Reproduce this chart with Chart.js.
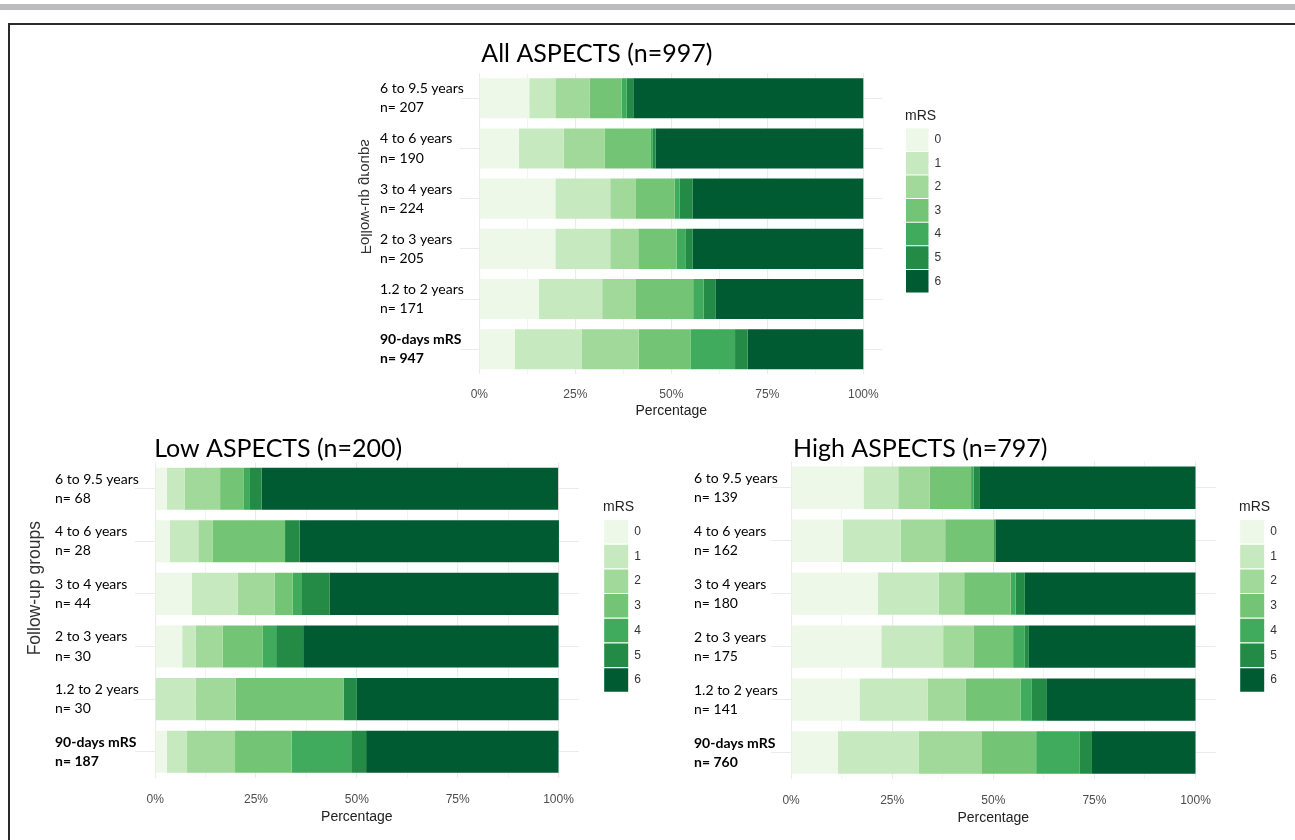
<!DOCTYPE html>
<html><head><meta charset="utf-8">
<script src="https://cdn.jsdelivr.net/npm/chart.js@4.4.0/dist/chart.umd.min.js"></script>
<style>
html,body{margin:0;padding:0;background:#fff;width:1295px;height:840px;overflow:hidden;}
#band{position:absolute;left:0;top:4px;width:1295px;height:6px;background:#bcbcbe;}
#frame{position:absolute;left:8px;top:23px;width:1300px;height:830px;border-left:2px solid #2a2a2a;border-top:2px solid #2a2a2a;}
canvas{position:absolute;}
</style></head><body>
<div id="band"></div><div id="frame"></div>
<canvas id="cAll" width="640" height="400" style="left:340px;top:30px"></canvas>
<canvas id="cLow" width="640" height="415" style="left:20px;top:420px"></canvas>
<canvas id="cHigh" width="635" height="415" style="left:660px;top:420px"></canvas>
<script>
const mrsLevels = ['0','1','2','3','4','5','6'];
const mrsColors = ['#edf8e9','#c7e9c0','#a1d99b','#74c476','#41ab5d','#238b45','#005a32'];
const groupNames = ['6 to 9.5 years','4 to 6 years','3 to 4 years','2 to 3 years','1.2 to 2 years','90-days mRS'];
const nAll = [207,190,224,205,171,947];
const nLow = [68,28,44,30,30,187];
const nHigh = [139,162,180,175,141,760];
const xMajorTicks = [0,25,50,75,100];
const xMinorTicks = [12.5,37.5,62.5,87.5];

// percentage per mRS level (rows: mRS 0..6; columns follow groupNames)
const allPct = [
  [13.0,10.3,19.8,19.8,15.5,9.3],
  [6.8,11.7,14.3,14.3,16.5,17.3],
  [8.9,10.7,6.7,7.3,8.8,14.9],
  [8.4,12.0,10.1,10.0,14.9,13.6],
  [1.3,0.5,1.3,2.4,2.7,11.5],
  [1.7,0.7,3.3,1.8,3.2,3.3],
  [59.9,54.1,44.5,44.4,38.4,30.1]
];
const lowPct = [
  [2.9,3.6,9.1,6.7,0,2.9],
  [4.4,7.1,11.4,3.3,10.0,5.0],
  [8.8,3.6,9.1,6.7,10.0,11.9],
  [5.9,17.9,4.5,10.0,26.7,14.0],
  [1.5,0,2.3,3.3,0,14.8],
  [2.9,3.6,6.8,6.7,3.3,3.7],
  [73.5,64.3,56.8,63.3,50.0,47.7]
];
const highPct = [
  [17.9,12.8,21.4,22.3,16.9,11.6],
  [8.6,14.3,15.1,15.3,16.9,20.0],
  [7.8,11.0,6.3,7.6,9.4,15.6],
  [10.2,12.1,11.5,9.7,13.6,13.4],
  [0.6,0,1.2,2.9,2.6,10.8],
  [1.6,0.4,2.3,1.0,3.7,3.0],
  [53.3,49.4,42.2,41.2,36.9,25.6]
];

const decor = {
  id: 'decor',
  afterLayout(chart, args, opts) {
    const lg = chart.legend;
    if (lg && opts.legendShift) { lg.left += opts.legendShift; lg.right += opts.legendShift; }
    const ys = chart.scales.y;
    if (ys) ys._computeLabelArea = function () { return undefined; };
  },
  afterDraw(chart, args, opts) {
    const ctx = chart.ctx, ca = chart.chartArea, xs = chart.scales.x;
    ctx.save();
    ctx.fillStyle = '#000';
    ctx.font = opts.titleFont;
    ctx.textAlign = 'left'; ctx.textBaseline = 'alphabetic';
    ctx.fillText(opts.title, xs.getPixelForValue(0) + opts.titleDx, ca.top + opts.titleDy);
    if (opts.yTitle) {
      ctx.translate(ca.left + opts.yTitleDx, (ca.top + ca.bottom) / 2 + opts.yTitleDy);
      if (opts.mirror) ctx.scale(-1, 1);
      ctx.rotate(-Math.PI / 2);
      ctx.font = opts.yTitleSize + 'px "Liberation Sans", Arial';
      ctx.fillStyle = '#333';
      ctx.textAlign = 'center'; ctx.textBaseline = 'middle';
      ctx.fillText(opts.yTitle, 0, 0);
    }
    ctx.restore();
  }
};

function makePanel(id, pct, nArr, c) {
  const labels = groupNames.map((g, i) => [g, 'n= ' + nArr[i]]);
  const datasets = mrsLevels.map((m, k) => ({
    label: m, data: pct[k], backgroundColor: mrsColors[k], borderColor: mrsColors[k],
    borderWidth: 0, barPercentage: 0.8, categoryPercentage: 1
  }));
  const allTicks = xMajorTicks.concat(xMinorTicks).sort((a, b) => a - b);
  return new Chart(document.getElementById(id), {
    type: 'bar',
    data: { labels, datasets },
    plugins: [decor],
    options: {
      indexAxis: 'y', responsive: false, animation: false,
      layout: { padding: c.padding },
      scales: {
        x: {
          stacked: true, min: -5, max: 105,
          afterBuildTicks: s => { s.ticks = allTicks.map(v => ({ value: v })); },
          ticks: {
            autoSkip: false, maxRotation: 0, padding: c.xTickPad, color: '#4d4d4d',
            font: { family: '"Liberation Sans", Arial', size: 12 },
            callback: v => xMajorTicks.includes(v) ? v + '%' : ''
          },
          grid: {
            color: '#ebebeb', drawTicks: false,
            lineWidth: ctx => (ctx.tick && xMajorTicks.includes(ctx.tick.value)) ? 1.1 : 0.6
          },
          border: { display: false },
          title: { display: true, text: 'Percentage', color: '#222',
            font: { family: '"Liberation Sans", Arial', size: 14 }, padding: { top: c.xTitlePadTop, bottom: 4 } }
        },
        y: {
          stacked: true,
          afterFit: s => { s.width = c.yWidth; },
          grid: { color: '#ebebeb', offset: false, drawTicks: false },
          border: { display: false },
          ticks: {
            crossAlign: 'far', color: '#000',
            font: ctx => ({ family: 'Lato', size: 14, lineHeight: 1.36, weight: ctx.index === 5 ? 'bold' : 'normal' })
          }
        }
      },
      plugins: {
        tooltip: { enabled: false },
        legend: {
          position: 'right', align: 'start', maxWidth: 40,
          title: { display: true, text: 'mRS', position: 'start', color: '#222',
            font: { family: '"Liberation Sans", Arial', size: 14 }, padding: c.legTitlePad },
          labels: { boxWidth: c.boxW, boxHeight: c.boxH, padding: c.boxPad, color: '#333',
            font: { family: '"Liberation Sans", Arial', size: 12 } }
        },
        decor: {
          legendShift: c.legShift, title: c.title, titleFont: c.titleFont,
          titleDx: c.titleDx, titleDy: c.titleDy,
          yTitle: c.yTitle || '', yTitleSize: c.yTitleSize || 14,
          yTitleDx: c.yTitleDx || 0, yTitleDy: c.yTitleDy || 0, mirror: !!c.mirror
        }
      }
    }
  });
}

makePanel('cAll', allPct, nAll, {
  padding: { left: 40, top: 43.2, right: 57.5, bottom: 6.5 },
  yWidth: 80.1, xTickPad: 13, xTitlePadTop: -12,
  legShift: 22.5, boxW: 22.5, boxH: 22.6, boxPad: 1, legTitlePad: { top: 36.4, bottom: 0.9 },
  title: 'All ASPECTS (n=997)', titleFont: '25px Lato', titleDx: 2, titleDy: -11,
  yTitle: 'Follow-up groups', yTitleSize: 15, yTitleDx: -95, yTitleDy: -27, mirror: true
});
makePanel('cLow', lowPct, nLow, {
  padding: { left: 35, top: 42.4, right: 41.3, bottom: 5.6 },
  yWidth: 80, xTickPad: 14.8, xTitlePadTop: -13.4,
  legShift: 24.3, boxW: 24, boxH: 23.5, boxPad: 1.2, legTitlePad: { top: 37.7, bottom: 1.9 },
  title: 'Low ASPECTS (n=200)', titleFont: '25px Lato', titleDx: -1, titleDy: -5.5,
  yTitle: 'Follow-up groups', yTitleSize: 17.5, yTitleDx: -100, yTitleDy: -32, mirror: false
});
makePanel('cHigh', highPct, nHigh, {
  padding: { left: 34, top: 41.3, right: 39.3, bottom: 4.6 },
  yWidth: 76.9, xTickPad: 14.8, xTitlePadTop: -13.4,
  legShift: 23.3, boxW: 24, boxH: 23.5, boxPad: 1.2, legTitlePad: { top: 38.8, bottom: 1.9 },
  title: 'High ASPECTS (n=797)', titleFont: '25px Lato', titleDx: 2, titleDy: -4.3
});
</script>
</body></html>
